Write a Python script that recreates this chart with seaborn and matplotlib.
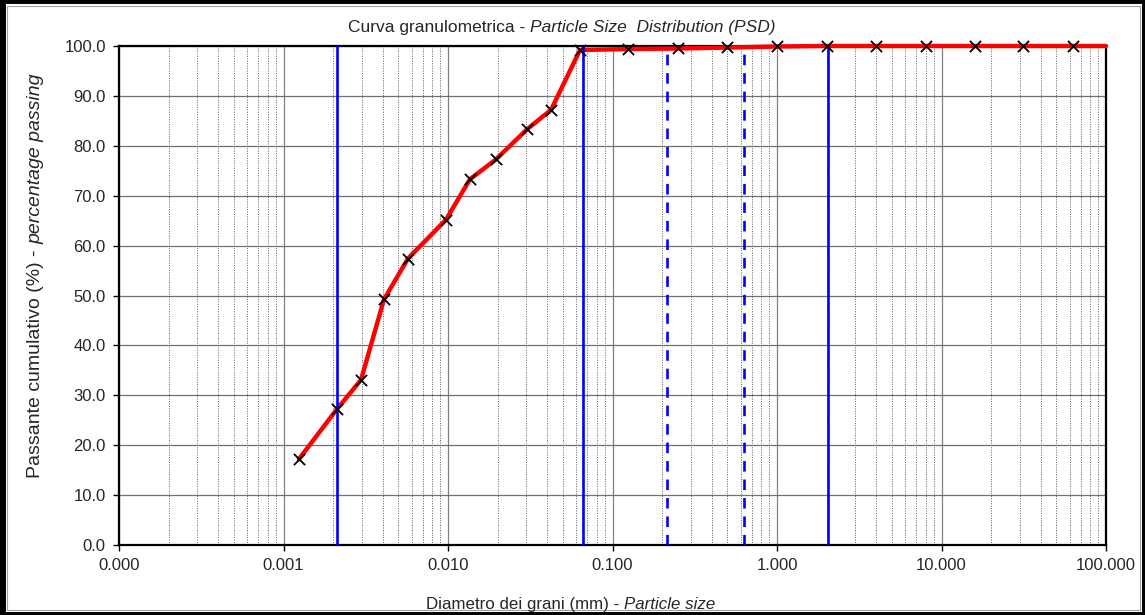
import numpy as np
import pandas as pd
import seaborn as sns
import matplotlib.pyplot as plt
from matplotlib.patches import Rectangle
from matplotlib.ticker import LogLocator, FuncFormatter, MultipleLocator

# grain size results (hydrometer + sieves)
diameter_mm = [0.00124, 0.00211, 0.00296, 0.00408, 0.00571, 0.00973, 0.0136, 0.0196,
               0.0302, 0.0423, 0.0635, 0.125, 0.25, 0.5, 1.0, 2.0, 4.0, 8.0, 16.0,
               31.5, 63.0]
passing_pct = [17.2, 27.2, 33.1, 49.2, 57.4, 65.2, 73.3, 77.3,
               83.3, 87.2, 99.2, 99.4, 99.5, 99.7, 99.9, 100.0, 100.0, 100.0, 100.0,
               100.0, 100.0]
# curve is carried on to the right edge of the chart
curve_end_mm = 100.0
curve_end_pct = 100.0

# class boundaries (clay / silt / sand / gravel) and sand sub-classes
solid_limits = [0.0021, 0.066, 2.05]
dashed_limits = [0.213, 0.63]

sns.set_style("white")
plt.rcParams["font.family"] = ["Liberation Sans", "DejaVu Sans"]

W, H = 1145, 615
fig = plt.figure(figsize=(W / 100, H / 100), dpi=100)
ax = fig.add_axes([119 / W, (H - 545) / H, 987 / W, 499 / H])

df = pd.DataFrame({"d": diameter_mm, "p": passing_pct})
curve = pd.concat([df, pd.DataFrame({"d": [curve_end_mm], "p": [curve_end_pct]})],
                  ignore_index=True)

ax.set_xscale("log")
sns.lineplot(data=curve, x="d", y="p", color="#ff0000", lw=3.2, estimator=None,
             sort=True, ax=ax, zorder=3, clip_on=False)
for x in solid_limits:
    ax.axvline(x, color="#0000ff", lw=1.9, zorder=4)
for x in dashed_limits:
    ax.axvline(x, color="#0000ff", lw=1.9, dashes=(4, 3), zorder=4)
sns.scatterplot(data=df, x="d", y="p", marker="x", color="black", s=65,
                linewidth=1.3, ax=ax, zorder=5, clip_on=False)

ax.set_xlim(1e-4, 100)
ax.set_ylim(0, 100)
ax.xaxis.set_major_locator(LogLocator(base=10, numticks=20))
ax.xaxis.set_minor_locator(LogLocator(base=10, subs=np.arange(2, 10), numticks=50))
ax.xaxis.set_major_formatter(FuncFormatter(lambda v, pos: f"{v:.3f}"))
ax.xaxis.set_minor_formatter(FuncFormatter(lambda v, pos: ""))
ax.yaxis.set_major_locator(MultipleLocator(10))
ax.yaxis.set_major_formatter(FuncFormatter(lambda v, pos: f"{v:.1f}"))

ax.grid(which="major", axis="x", color="#808080", lw=0.9, ls="-")
ax.grid(which="minor", axis="x", color="#606060", lw=0.7, ls=(0, (1, 1.5)))
ax.grid(which="major", axis="y", color="#707070", lw=0.9, ls="-")
ax.set_axisbelow(True)

ax.tick_params(axis="both", which="major", direction="out", length=4.5, width=1,
               color="black", labelsize=12, pad=5, left=True, bottom=True)
ax.tick_params(axis="x", which="minor", length=0)
for s in ax.spines.values():
    s.set_color("black")
    s.set_linewidth(1.6)
ax.set_xlabel("")
ax.set_ylabel("")

# title and axis titles with italic English part
fig.text(525 / W, (H - 32) / H, "Curva granulometrica -", ha="right", va="baseline",
         fontsize=12.5)
fig.text(530 / W, (H - 32) / H, "Particle Size  Distribution (PSD)", ha="left",
         va="baseline", fontsize=12.5, style="italic")
fig.text(619 / W, (H - 609) / H, "Diametro dei grani (mm) -", ha="right",
         va="baseline", fontsize=12.2)
fig.text(624 / W, (H - 609) / H, "Particle size", ha="left", va="baseline",
         fontsize=12.2, style="italic")
fig.text(40 / W, (H - 250) / H, "Passante cumulativo (%) -", rotation=90,
         rotation_mode="anchor", ha="right", va="baseline", fontsize=14)
fig.text(40 / W, (H - 244) / H, "percentage passing", rotation=90,
         rotation_mode="anchor", ha="left", va="baseline", fontsize=14, style="italic")

# chart frame
fig.patches.append(Rectangle((6.5 / W, 5.5 / H), (W - 12) / W, (H - 11) / H,
                             transform=fig.transFigure, fill=False,
                             edgecolor="#a0a0a0", lw=0.8))
fig.patches.append(Rectangle((0, 0), 1, 1, transform=fig.transFigure, fill=False,
                             edgecolor="black", lw=5))
fig.patches.append(Rectangle((0, 0), 5.5 / W, 1, transform=fig.transFigure,
                             color="black", lw=0))

fig.savefig("out.png", dpi=100)
